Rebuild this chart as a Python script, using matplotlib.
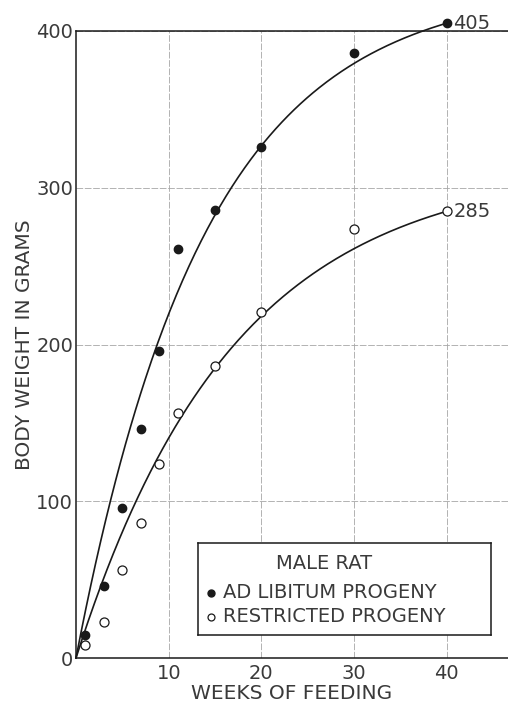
import numpy as np
import matplotlib
matplotlib.use("Agg")
from matplotlib import pyplot as plt

# data
weeks = [1, 3, 5, 7, 9, 11, 15, 20, 30, 40]
ad_libitum = [15, 46, 96, 146, 196, 261, 286, 326, 386, 405]
restricted = [8, 23, 56, 86, 124, 156, 186, 221, 274, 285]
x_ticks = [10, 20, 30, 40]
y_ticks = [0, 100, 200, 300, 400]

plt.rcParams['font.family'] = ['DejaVu Sans']
INK = '#1a1a1a'
TXT = '#3a3a3a'
FS = 14


def growth_fit(t, w):
    # W = A (1 - exp(-k t)), pinned to the last (labelled) point,
    # k by least squares weighted toward the later weeks
    t = np.asarray(t, float)
    w = np.asarray(w, float)
    best = None
    for k in np.linspace(0.02, 0.3, 2000):
        a = w[-1] / (1 - np.exp(-k * t[-1]))
        err = np.sum(t * (a * (1 - np.exp(-k * t)) - w) ** 2)
        if best is None or err < best[0]:
            best = (err, a, k)
    _, a, k = best
    return lambda x: a * (1 - np.exp(-k * x))


fig = plt.figure(figsize=(5.08, 7.09), dpi=100)
ax = fig.add_axes([0.1496, 0.0719, 0.8504, 0.8844])

tt = np.linspace(0, max(weeks), 300)
for vals in (ad_libitum, restricted):
    f = growth_fit(weeks, vals)
    ax.plot(tt, f(tt), color=INK, lw=1.2, clip_on=False, zorder=3)

ax.plot(weeks, ad_libitum, 'o', color=INK, ms=6, clip_on=False, zorder=4)
ax.plot(weeks, restricted, 'o', mfc='white', mec=INK, mew=0.9, ms=6.5, clip_on=False, zorder=4)

ax.text(weeks[-1] + 0.7, ad_libitum[-1], str(ad_libitum[-1]), fontsize=FS, va='center', ha='left', color=TXT)
ax.text(weeks[-1] + 0.7, restricted[-1], str(restricted[-1]), fontsize=FS, va='center', ha='left', color=TXT)

ax.set_xlim(0, 46.6)
ax.set_ylim(0, 400)
ax.set_xticks(x_ticks)
ax.set_yticks(y_ticks)
ax.tick_params(length=0, labelsize=FS, colors=TXT, pad=4)
ax.tick_params(axis='y', pad=2)
ax.spines['right'].set_visible(False)
for s in ('left', 'bottom', 'top'):
    ax.spines[s].set_linewidth(1.1)
    ax.spines[s].set_color(INK)
ax.grid(True, color='0.65', lw=0.6, ls=(0, (8, 2)))
ax.set_axisbelow(True)

ax.set_xlabel('WEEKS OF FEEDING', fontsize=FS + 0.5, color=TXT, labelpad=1)
ax.set_ylabel('BODY WEIGHT IN GRAMS', fontsize=FS + 0.5, color=TXT, labelpad=2)

# legend box
box = ax.inset_axes([0.2816, 0.036, 0.68, 0.148])
box.set_xticks([])
box.set_yticks([])
for s in box.spines.values():
    s.set_linewidth(1.1)
    s.set_color(INK)
box.set_xlim(0, 1)
box.set_ylim(0, 1)
box.text(0.43, 0.77, 'MALE RAT', fontsize=FS, ha='center', va='center', color=TXT)
box.plot([0.045], [0.46], 'o', color=INK, ms=5)
box.text(0.085, 0.46, 'AD LIBITUM PROGENY', fontsize=FS, ha='left', va='center', color=TXT)
box.plot([0.045], [0.2], 'o', mfc='white', mec=INK, mew=0.9, ms=5)
box.text(0.085, 0.2, 'RESTRICTED PROGENY', fontsize=FS, ha='left', va='center', color=TXT)

fig.savefig('out.png', dpi=100)
